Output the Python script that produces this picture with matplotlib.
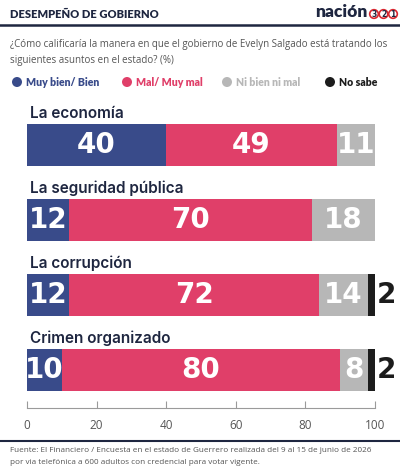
import numpy as np
import matplotlib.pyplot as plt
from matplotlib.patches import Circle

# datos
temas = ["La economía", "La seguridad pública", "La corrupción", "Crimen organizado"]
bien = [40, 12, 12, 10]
mal = [49, 70, 72, 80]
ni = [11, 18, 14, 8]
no_sabe = [0, 0, 2, 2]

series_labels = ["Muy bien/ Bien", "Mal/ Muy mal", "Ni bien ni mal", "No sabe"]
xticks = [0, 20, 40, 60, 80, 100]

AZUL = "#394b8a"
ROSA = "#e03f69"
GRIS = "#b7b7b7"
NEGRO = "#1c1c1c"
NAVY = "#1e2640"

W, H = 400, 470
fig = plt.figure(figsize=(W / 100, H / 100), dpi=100, facecolor="white")


def px(x, y):
    # pixel (desde arriba-izquierda) -> coords de figura
    return x / W, 1 - y / H


# cabecera
fig.text(*px(10, 14), "DESEMPEÑO DE GOBIERNO", fontsize=8, fontweight="heavy",
         family="Lato", color=NAVY, va="center", ha="left")
fig.text(*px(368, 12), "nación", fontsize=12.5, fontweight="heavy", family="Lato",
         color=NAVY, va="center", ha="right")
for k, d in enumerate(["3", "2", "1"]):
    cx, cy = 374 + k * 9.5, 14
    fig.patches.append(Circle((cx / 100, (H - cy) / 100), 4.3 / 100,
                              transform=fig.dpi_scale_trans, facecolor="white",
                              edgecolor="#d8262f", linewidth=1.2))
    fig.text(*px(cx, cy + 0.3), d, fontsize=5.5, fontweight="bold", color=NAVY,
             ha="center", va="center")

fig.add_artist(plt.Line2D([0, 1], [1 - 25 / H] * 2, color=NAVY, linewidth=1.8))

fig.text(*px(10, 44), "¿Cómo calificaría la manera en que el gobierno de Evelyn Salgado está tratando los",
         fontsize=7.0, family="Open Sans", color="#555555", va="center", ha="left")
fig.text(*px(10, 60), "siguientes asuntos en el estado? (%)",
         fontsize=7.0, family="Open Sans", color="#555555", va="center", ha="left")

# leyenda
leg_x = [17, 127, 227, 330]
leg_col = [AZUL, ROSA, GRIS, NEGRO]
for lx, lab, c in zip(leg_x, series_labels, leg_col):
    fig.patches.append(Circle((lx / 100, (H - 82) / 100), 5 / 100,
                              transform=fig.dpi_scale_trans, facecolor=c, edgecolor="none"))
    fig.text(*px(lx + 9, 82), lab, fontsize=7.6, fontweight="heavy", family="Lato",
             color=c, va="center", ha="left")

# barras
top_px, bot_px = 100, 408
c0, step = 144.5, 75
ax = fig.add_axes([27 / W, 1 - bot_px / H, (375 - 27) / W, (bot_px - top_px) / H])
ax.set_xlim(0, 100)
ax.set_ylim((bot_px - c0) / step, (top_px - c0) / step)

y = np.arange(len(temas))
bien = np.array(bien)
mal = np.array(mal)
ni = np.array(ni)
no_sabe = np.array(no_sabe)
h = 42 / step

ax.barh(y, bien, height=h, color=AZUL)
ax.barh(y, mal, left=bien, height=h, color=ROSA)
ax.barh(y, ni, left=bien + mal, height=h, color=GRIS)
ax.barh(y, no_sabe, left=bien + mal + ni, height=h, color=NEGRO)

num_kw = dict(fontsize=20, fontweight="bold", family="DejaVu Sans", va="center", ha="center")
for i in y:
    ax.text(0.8, i - 0.42, temas[i], fontsize=11, fontweight="semibold", family="Inter",
            color=NAVY, ha="left", va="center")
    ax.text(bien[i] / 2, i, str(bien[i]), color="white", **num_kw)
    ax.text(bien[i] + mal[i] / 2, i, str(mal[i]), color="white", **num_kw)
    ax.text(bien[i] + mal[i] + ni[i] / 2, i, str(ni[i]), color="white", **num_kw)
    if no_sabe[i]:
        ax.text(103.2, i, str(no_sabe[i]), color=NEGRO, clip_on=False, **num_kw)

for s in ["top", "right", "left"]:
    ax.spines[s].set_visible(False)
ax.spines["bottom"].set_color("#9a9a9a")
ax.spines["bottom"].set_linewidth(0.8)
ax.set_yticks([])
ax.set_xticks(xticks)
ax.tick_params(axis="x", direction="in", length=5, width=0.8, color="#9a9a9a",
               labelsize=8.5, labelcolor="#555555", pad=8)
for t in ax.get_xticklabels():
    t.set_family("Open Sans")

# pie
fig.add_artist(plt.Line2D([0, 1], [1 - 441 / H] * 2, color=NAVY, linewidth=1.5))
fig.text(*px(10, 451), "Fuente: El Financiero / Encuesta en el estado de Guerrero realizada del 9 al 15 de junio de 2026",
         fontsize=5.9, family="Open Sans", color="#555555", va="center", ha="left")
fig.text(*px(10, 463), "por via telefónica a 600 adultos con credencial para votar vigente.",
         fontsize=5.9, family="Open Sans", color="#555555", va="center", ha="left")

fig.savefig("out.png", dpi=100, facecolor="white")
